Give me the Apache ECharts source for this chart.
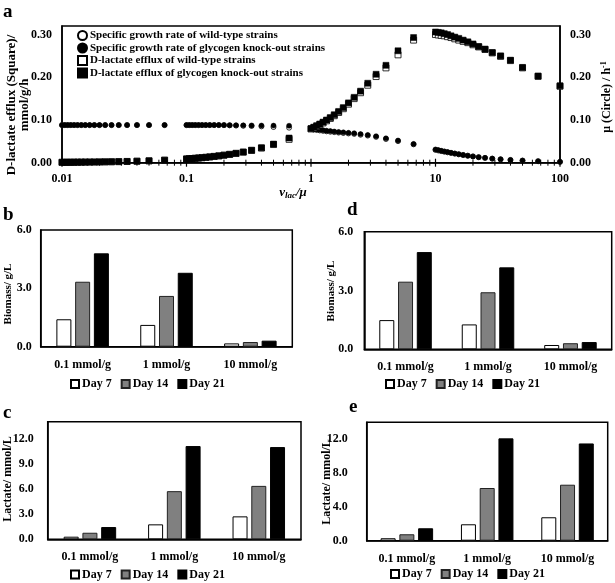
<!DOCTYPE html>
<html>
<head>
<meta charset="utf-8">
<script src="https://cdn.jsdelivr.net/npm/echarts@6/dist/echarts.min.js"></script>
<style>html,body{margin:0;padding:0;background:#fff;}#c{width:615px;height:583px;}</style>
</head>
<body>
<div id="c"></div>
<script>
// ---------- Panel a data ----------
const xs = [
  0.01, 0.01053, 0.01111, 0.01176, 0.0125, 0.01333, 0.01429, 0.01538, 0.01667, 0.01818, 0.02, 0.02222, 0.025, 0.02857, 0.03333, 0.04, 0.05, 0.06667,
  0.1, 0.1053, 0.1111, 0.1176, 0.125, 0.1333, 0.1429, 0.1538, 0.1667, 0.1818, 0.2, 0.2222, 0.25, 0.2857, 0.3333, 0.4, 0.5, 0.6667,
  1, 1.053, 1.111, 1.176, 1.25, 1.333, 1.429, 1.538, 1.667, 1.818, 2, 2.222, 2.5, 2.857, 3.333, 4, 5, 6.667,
  10, 10.53, 11.11, 11.76, 12.5, 13.33, 14.29, 15.38, 16.67, 18.18, 20, 22.22, 25, 28.57, 33.33, 40, 50, 66.67, 100
];
const muWT = [
  0.088, 0.088, 0.088, 0.088, 0.088, 0.088, 0.088, 0.088, 0.088, 0.088, 0.088, 0.088, 0.088, 0.088, 0.088, 0.088, 0.088, 0.088,
  0.088, 0.088, 0.088, 0.088, 0.088, 0.088, 0.088, 0.088, 0.088, 0.088, 0.0878, 0.0875, 0.087, 0.0865, 0.086, 0.085, 0.0835, 0.082,
  0.079, 0.0775, 0.0765, 0.0755, 0.0745, 0.0735, 0.0725, 0.0715, 0.0705, 0.0695, 0.0685, 0.0675, 0.0655, 0.0635, 0.0605, 0.0555, 0.0505, 0.043,
  0.030, 0.0286, 0.0272, 0.0258, 0.0243, 0.0228, 0.0212, 0.0196, 0.018, 0.0163, 0.0146, 0.0129, 0.0112, 0.0095, 0.0079, 0.0064, 0.0049, 0.0034, 0.002
];
const muKO = [
  0.088, 0.088, 0.088, 0.088, 0.088, 0.088, 0.088, 0.088, 0.088, 0.088, 0.088, 0.088, 0.088, 0.088, 0.088, 0.088, 0.088, 0.088,
  0.088, 0.088, 0.088, 0.088, 0.088, 0.088, 0.088, 0.088, 0.088, 0.088, 0.088, 0.0878, 0.0876, 0.0874, 0.0872, 0.087, 0.0868, 0.0865,
  0.080, 0.079, 0.078, 0.077, 0.076, 0.075, 0.074, 0.073, 0.072, 0.071, 0.070, 0.069, 0.067, 0.065, 0.062, 0.057, 0.052, 0.044,
  0.031, 0.0295, 0.028, 0.0265, 0.025, 0.0233, 0.0216, 0.0199, 0.0182, 0.0165, 0.0148, 0.013, 0.0113, 0.0096, 0.008, 0.0065, 0.005, 0.0035, 0.002
];
const vWT = [
  0.0009, 0.0009, 0.001, 0.001, 0.0011, 0.0012, 0.0013, 0.0014, 0.0015, 0.0016, 0.0018, 0.002, 0.0022, 0.0025, 0.0029, 0.0035, 0.0044, 0.0059,
  0.0088, 0.0093, 0.0098, 0.0104, 0.011, 0.0117, 0.0126, 0.0135, 0.0147, 0.016, 0.0176, 0.0195, 0.0218, 0.0247, 0.0288, 0.0344, 0.0425, 0.0547,
  0.079, 0.0816, 0.085, 0.0888, 0.0931, 0.098, 0.1036, 0.11, 0.1175, 0.1264, 0.137, 0.15, 0.1638, 0.1814, 0.2017, 0.222, 0.2525, 0.287,
  0.300, 0.299, 0.298, 0.297, 0.295, 0.293, 0.290, 0.287, 0.284, 0.281, 0.276, 0.271, 0.265, 0.257, 0.249, 0.239, 0.222, 0.202, 0.179
];
const vKO = [
  0.0009, 0.0009, 0.001, 0.001, 0.0011, 0.0012, 0.0013, 0.0014, 0.0015, 0.0016, 0.0018, 0.002, 0.0022, 0.0025, 0.0029, 0.0035, 0.0044, 0.0059,
  0.0088, 0.0093, 0.0098, 0.0104, 0.011, 0.0117, 0.0126, 0.0135, 0.0147, 0.016, 0.0176, 0.0195, 0.0219, 0.025, 0.0291, 0.0349, 0.0436, 0.0578,
  0.080, 0.0832, 0.0867, 0.0906, 0.095, 0.100, 0.1057, 0.1123, 0.120, 0.129, 0.140, 0.153, 0.1675, 0.186, 0.207, 0.228, 0.262, 0.293,
  0.306, 0.305, 0.304, 0.302, 0.300, 0.297, 0.294, 0.291, 0.287, 0.283, 0.278, 0.272, 0.266, 0.258, 0.250, 0.240, 0.223, 0.203, 0.180
];
const seriesNamesA = [
  'Specific growth rate of wild-type strains',
  'Specific growth rate of glycogen knock-out strains',
  'D-lactate efflux of wild-type strains',
  'D-lactate efflux of glycogen knock-out strains'
];
const xMajorTicks = [0.01, 0.1, 1, 10, 100];
const xTickLabels = ['0.01', '0.1', '1', '10', '100'];
const xMinorTicks = [0.02,0.03,0.04,0.05,0.06,0.07,0.08,0.09, 0.2,0.3,0.4,0.5,0.6,0.7,0.8,0.9, 2,3,4,5,6,7,8,9, 20,30,40,50,60,70,80,90];

// ---------- Panels b-e data ----------
const barCats = ['0.1 mmol/g', '1 mmol/g', '10 mmol/g'];
const dayNames = ['Day 7', 'Day 14', 'Day 21'];
const biomassB_d7 = [1.41, 1.12, 0.17];
const biomassB_d14 = [3.34, 2.61, 0.24];
const biomassB_d21 = [4.80, 3.80, 0.31];
const biomassD_d7 = [1.49, 1.27, 0.22];
const biomassD_d14 = [3.45, 2.91, 0.31];
const biomassD_d21 = [4.96, 4.18, 0.37];
const lactateC_d7 = [0.31, 1.78, 2.73];
const lactateC_d14 = [0.78, 5.73, 6.36];
const lactateC_d21 = [1.46, 11.1, 10.98];
const lactateE_d7 = [0.29, 1.94, 2.77];
const lactateE_d14 = [0.76, 6.23, 6.62];
const lactateE_d21 = [1.47, 12.1, 11.5];

// ---------- styling ----------
const FF = '"Liberation Serif", "Times New Roman", serif';
const txt = (size) => ({ fontFamily: FF, fontWeight: 'bold', fontSize: size, color: '#000' });
const axisLineBlack = { show: true, lineStyle: { color: '#000', width: 1.5 } };

const chart = echarts.init(document.getElementById('c'), null, { renderer: 'canvas' });

const grids = [
  { left: 62, top: 26, width: 498, height: 136.7 },
  { left: 40.7, top: 230, width: 251.6, height: 116.7 },
  { left: 364.3, top: 231.7, width: 247.4, height: 117.6 },
  { left: 47.7, top: 421.7, width: 253.3, height: 117.6 },
  { left: 366.7, top: 422.3, width: 241, height: 118.4 }
].map(g => Object.assign({ show: true, borderColor: '#000', borderWidth: 1.5, backgroundColor: 'transparent', containLabel: false }, g));

function catX(gi, margin) {
  return {
    type: 'category', gridIndex: gi, data: barCats,
    axisLine: axisLineBlack, axisTick: { show: false },
    axisLabel: Object.assign({ margin: margin, interval: 0 }, txt(12)),
    splitLine: { show: false }
  };
}
function valY(gi, max, interval, margin) {
  return {
    type: 'value', gridIndex: gi, min: 0, max: max, interval: interval,
    axisLine: axisLineBlack, axisTick: { show: false }, splitLine: { show: false },
    axisLabel: Object.assign({ margin: margin, showMaxLabel: max % interval === 0, formatter: v => v.toFixed(1) }, txt(12))
  };
}
const dayStyles = [
  { color: '#ffffff', borderColor: '#000', borderWidth: 1 },
  { color: '#808080', borderColor: '#222', borderWidth: 1 },
  { color: '#000000', borderColor: '#000', borderWidth: 1 }
];
function bars(xi, yi, arrs) {
  return arrs.map((arr, i) => ({
    type: 'bar', name: dayNames[i], xAxisIndex: xi, yAxisIndex: yi, data: arr,
    barWidth: 15, barGap: '25%', itemStyle: dayStyles[i]
  }));
}
function barLegend(left, top) {
  return {
    data: dayNames, left: left, top: top, orient: 'horizontal', icon: 'rect', padding: 0,
    itemWidth: 8, itemHeight: 8, itemGap: 9, textStyle: Object.assign({ padding: [0, 0, 0, -2] }, txt(12)),
    selectedMode: false
  };
}

const option = {
  animation: false,
  backgroundColor: '#fff',
  grid: grids,
  xAxis: [
    {
      type: 'log', logBase: 10, gridIndex: 0, min: 0.01, max: 100,
      axisLine: axisLineBlack, axisTick: { show: false }, splitLine: { show: false },
      axisLabel: Object.assign({
        margin: 10,
        formatter: v => {
          const i = xMajorTicks.findIndex(t => Math.abs(Math.log10(t) - Math.log10(v)) < 1e-6);
          return i >= 0 ? xTickLabels[i] : '';
        }
      }, txt(12))
    },
    catX(1, 12), catX(2, 12), catX(3, 12), catX(4, 12)
  ],
  yAxis: [
    {
      type: 'value', gridIndex: 0, min: 0, max: 0.32, interval: 0.1, position: 'left',
      axisLine: axisLineBlack, axisTick: { show: false }, splitLine: { show: false },
      axisLabel: Object.assign({ margin: 10, showMaxLabel: false, formatter: v => v.toFixed(2) }, txt(12))
    },
    {
      type: 'value', gridIndex: 0, min: 0, max: 0.32, interval: 0.1, position: 'right',
      axisLine: axisLineBlack, axisTick: { show: false }, splitLine: { show: false },
      axisLabel: Object.assign({ margin: 10, showMaxLabel: false, formatter: v => v.toFixed(2) }, txt(12))
    },
    valY(1, 6, 3, 9),
    valY(2, 6, 3, 11),
    valY(3, 14, 3, 14),
    valY(4, 14, 4, 19)
  ],
  legend: [
    {
      data: seriesNamesA, left: 77, top: 30, orient: 'vertical', padding: 0, itemWidth: 9, itemHeight: 9, itemGap: 1.5,
      textStyle: Object.assign({ padding: [0, 0, 0, -2] }, txt(11)), selectedMode: false
    },
    barLegend(70, 378),
    barLegend(385, 378),
    barLegend(70, 568.5),
    barLegend(390, 568)
  ],
  graphic: [
    { type: 'text', x: 3, y: 12, style: { text: 'a', font: 'bold 19px ' + FF, fill: '#000', align: 'left', verticalAlign: 'middle' } },
    { type: 'text', x: 3, y: 215, style: { text: 'b', font: 'bold 19px ' + FF, fill: '#000', align: 'left', verticalAlign: 'middle' } },
    { type: 'text', x: 347, y: 210, style: { text: 'd', font: 'bold 19px ' + FF, fill: '#000', align: 'left', verticalAlign: 'middle' } },
    { type: 'text', x: 3, y: 413, style: { text: 'c', font: 'bold 19px ' + FF, fill: '#000', align: 'left', verticalAlign: 'middle' } },
    { type: 'text', x: 349, y: 407, style: { text: 'e', font: 'bold 19px ' + FF, fill: '#000', align: 'left', verticalAlign: 'middle' } },
    { type: 'text', x: 18.5, y: 105, rotation: Math.PI / 2,
      style: { text: 'D-lactate efflux (Square)/\nmmol/g/h', font: 'bold 13px ' + FF, lineHeight: 13, fill: '#000', align: 'center', verticalAlign: 'middle' } },
    { type: 'text', x: 607, y: 97, rotation: Math.PI / 2,
      style: { text: '{a|μ (Circle) / h}{s|-1}', fill: '#000', align: 'center', verticalAlign: 'middle',
        rich: { a: { fontFamily: FF, fontWeight: 'bold', fontSize: 12, lineHeight: 14 }, s: { fontFamily: FF, fontWeight: 'bold', fontSize: 8, verticalAlign: 'top' } } } },
    { type: 'text', x: 293, y: 193,
      style: { text: '{v|v}{s|lac}{v|/μ}', fill: '#000', align: 'center', verticalAlign: 'middle',
        rich: { v: { fontFamily: FF, fontWeight: 'bold', fontStyle: 'italic', fontSize: 13, lineHeight: 15 }, s: { fontFamily: FF, fontWeight: 'bold', fontStyle: 'italic', fontSize: 9, verticalAlign: 'bottom' } } } },
    { type: 'text', x: 8.3, y: 294, rotation: Math.PI / 2,
      style: { text: 'Biomass/ g/L', font: 'bold 11px ' + FF, fill: '#000', align: 'center', verticalAlign: 'middle' } },
    { type: 'text', x: 331, y: 291, rotation: Math.PI / 2,
      style: { text: 'Biomass/ g/L', font: 'bold 11px ' + FF, fill: '#000', align: 'center', verticalAlign: 'middle' } },
    { type: 'text', x: 8.3, y: 479, rotation: Math.PI / 2,
      style: { text: 'Lactate/ mmol/L', font: 'bold 12px ' + FF, fill: '#000', align: 'center', verticalAlign: 'middle' } },
    { type: 'text', x: 326.7, y: 482, rotation: Math.PI / 2,
      style: { text: 'Lactate/ mmol/L', font: 'bold 12px ' + FF, fill: '#000', align: 'center', verticalAlign: 'middle' } }
  ],
  series: [
    {
      type: 'scatter', name: seriesNamesA[0], xAxisIndex: 0, yAxisIndex: 1, symbol: 'circle', symbolSize: 5,
      data: xs.map((x, i) => [x, muWT[i]]), itemStyle: { color: '#fff', borderColor: '#000', borderWidth: 0.8, opacity: 1 }
    },
    {
      type: 'scatter', name: seriesNamesA[1], xAxisIndex: 0, yAxisIndex: 1, symbol: 'circle', symbolSize: 5,
      data: xs.map((x, i) => [x, muKO[i]]), itemStyle: { color: '#000', borderColor: '#000', borderWidth: 0.5, opacity: 1 }
    },
    {
      type: 'scatter', name: seriesNamesA[2], xAxisIndex: 0, yAxisIndex: 0, symbol: 'rect', symbolSize: 6,
      data: xs.map((x, i) => [x, vWT[i]]), itemStyle: { color: '#fff', borderColor: '#000', borderWidth: 0.8, opacity: 1 }
    },
    {
      type: 'scatter', name: seriesNamesA[3], xAxisIndex: 0, yAxisIndex: 0, symbol: 'rect', symbolSize: 6,
      data: xs.map((x, i) => [x, vKO[i]]), itemStyle: { color: '#000', borderColor: '#000', borderWidth: 0.5, opacity: 1 }
    },
    {
      type: 'custom', xAxisIndex: 0, yAxisIndex: 0, silent: true, clip: false, z: 5,
      data: xMinorTicks.map(v => [v, 0]),
      renderItem: (params, api) => {
        const p = api.coord([api.value(0), 0]);
        return { type: 'line', shape: { x1: p[0], y1: p[1] - 3, x2: p[0], y2: p[1] + 3 }, style: { stroke: '#000', lineWidth: 1 } };
      }
    },
    {
      type: 'custom', xAxisIndex: 0, yAxisIndex: 0, silent: true, clip: false, z: 5,
      data: xMajorTicks.map(v => [v, 0]),
      renderItem: (params, api) => {
        const p = api.coord([api.value(0), 0]);
        return { type: 'line', shape: { x1: p[0], y1: p[1] - 4, x2: p[0], y2: p[1] + 4 }, style: { stroke: '#000', lineWidth: 1.2 } };
      }
    }
  ]
    .concat(bars(1, 2, [biomassB_d7, biomassB_d14, biomassB_d21]))
    .concat(bars(2, 3, [biomassD_d7, biomassD_d14, biomassD_d21]))
    .concat(bars(3, 4, [lactateC_d7, lactateC_d14, lactateC_d21]))
    .concat(bars(4, 5, [lactateE_d7, lactateE_d14, lactateE_d21]))
};
chart.setOption(option);
</script>
</body>
</html>
